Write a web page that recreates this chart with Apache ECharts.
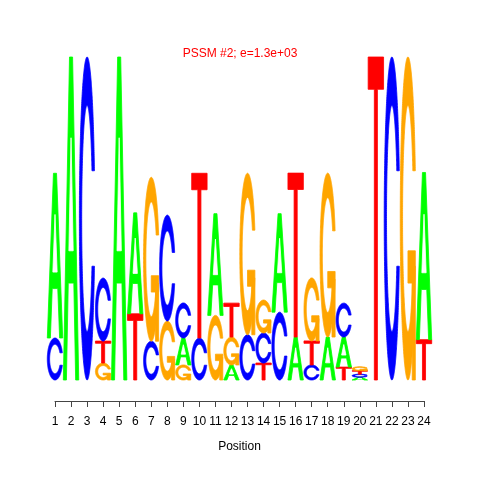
<!DOCTYPE html>
<html>
<head>
<meta charset="utf-8">
<script src="https://cdn.jsdelivr.net/npm/echarts@6/dist/echarts.min.js"></script>
<style>html,body{margin:0;padding:0;background:#fff}#chart{width:480px;height:480px}</style>
</head>
<body>
<div id="chart"></div>
<script>
// Position numbers (tick labels)
const positions = [1,2,3,4,5,6,7,8,9,10,11,12,13,14,15,16,17,18,19,20,21,22,23,24];
// Information content (bits) of each base at each position
const bitsA = [1.02,2.0,0,0,2.0,0.625,0,0,0.167,0,0.63,0.093,0,0,0.61,0.266,0,0.266,0.186,0.017,0,0,0,1.035];
const bitsC = [0.26,0,2.0,0.39,0,0,0.24,0.656,0.217,0.26,0,0,0.28,0.186,0.42,0,0.093,0,0.21,0.019,0,2.0,0,0];
const bitsG = [0,0,0,0.105,0,0,1.015,0.365,0.093,0,0.40,0.173,1.0,0.204,0,0,0.39,1.015,0,0.025,0,0,2.0,0];
const bitsT = [0,0,0,0.136,0,0.41,0,0,0,1.02,0,0.21,0,0.105,0,1.015,0.149,0,0.08,0.021,2.0,0,0,0.25];
const letters = ['A','C','G','T'];
const letterColors = {A:'#00FF00', C:'#0000FF', G:'#FFA500', T:'#FF0000'};
const titleText = 'PSSM #2; e=1.3e+03';
const xName = 'Position';

// Build stacked letter items: [position, bottom, top, letterIndex]
const stackData = [];
positions.forEach((p, i) => {
  const vals = [bitsA[i], bitsC[i], bitsG[i], bitsT[i]];
  const order = [0,1,2,3].filter(k => vals[k] > 0).sort((a,b) => vals[a] - vals[b]);
  let base = 0;
  order.forEach(k => {
    stackData.push([p, base, base + vals[k], k]);
    base += vals[k];
  });
});

// Glyph outlines in a unit box (x right, y up), following seqLogo's letter shapes
function seq(a, b, n){ const r=[]; for(let i=0;i<n;i++) r.push(a+(b-a)*i/(n-1)); return r; }
function cOutline(){
  const ang1 = seq(0.3+Math.PI/2, Math.PI, 100);
  const ang2 = seq(Math.PI, 1.5*Math.PI, 100);
  const xl1 = ang1.map(a=>0.5+0.5*Math.sin(a)), yl1 = ang1.map(a=>0.5+0.5*Math.cos(a));
  const xl2 = ang2.map(a=>0.5+0.5*Math.sin(a)), yl2 = ang2.map(a=>0.5+0.5*Math.cos(a));
  const xl = xl1.concat(xl2), yl = yl1.concat(yl2);
  let x = xl.concat(xl.slice().reverse());
  let y = yl.concat(yl.slice().reverse().map(v=>1-v));
  const hmax = Math.max(...yl1);
  let xi1 = ang1.map(a=>0.5+0.35*Math.sin(a)), yi1 = ang1.map(a=>0.5+0.35*Math.cos(a));
  const keep = yi1.map(v=>v<=hmax);
  xi1 = xi1.filter((v,i)=>keep[i]); yi1 = yi1.filter((v,i)=>keep[i]);
  yi1[0] = hmax;
  const xi2 = ang2.map(a=>0.5+0.35*Math.sin(a)), yi2 = ang2.map(a=>0.5+0.35*Math.cos(a));
  const xi = xi1.concat(xi2), yi = yi1.concat(yi2);
  const x1 = xi.concat(xi.slice().reverse());
  const y1 = yi.concat(yi.slice().reverse().map(v=>1-v));
  x = x.concat(x1.slice().reverse()); y = y.concat(y1.slice().reverse());
  return {pts: x.map((v,i)=>[v,y[i]]), r1: Math.max(...xl1)};
}
const cShape = cOutline();
const r1 = cShape.r1;
const glyphs = {
  A: [
    {pts: [[0,0],[0.4,1],[0.6,1],[1,0],[0.8,0],[0.68,0.3],[0.32,0.3],[0.2,0]], fill:null},
    {pts: [[0.36,0.4],[0.5,0.75],[0.64,0.4]], fill:'#FFFFFF'}
  ],
  C: [ {pts: cShape.pts, fill:null} ],
  G: [
    {pts: cShape.pts, fill:null},
    {pts: [[r1,0.4],[0.5,0.4],[0.5,0.3],[r1-0.2,0.3],[r1-0.2,0],[r1,0]], fill:null}
  ],
  T: [ {pts: [[0,1],[1,1],[1,0.9],[0.6,0.9],[0.6,0],[0.4,0],[0.4,0.9],[0,0.9]], fill:null} ]
};

const chart = echarts.init(document.getElementById('chart'), null, {renderer:'canvas'});
chart.setOption({
  animation: false,
  backgroundColor: '#ffffff',
  title: {
    text: titleText, left: 'center', top: 43,
    textStyle: {color:'#FF0000', fontSize: 12, fontWeight:'normal', fontFamily:'Liberation Sans, Arial, sans-serif'}
  },
  grid: {left: 55, right: 56, top: 57, bottom: 100},
  xAxis: {
    type: 'value', min: 1, max: 24, interval: 1, offset: 21,
    name: xName, nameLocation: 'middle', nameGap: 40,
    nameTextStyle: {color:'#000', fontSize: 12, fontFamily:'Liberation Sans, Arial, sans-serif'},
    axisLine: {show: true, onZero: false, lineStyle: {color:'#444', width: 1}},
    axisTick: {show: true, length: 6, lineStyle: {color:'#444', width: 1}},
    axisLabel: {color:'#000', fontSize: 12, margin: 15, fontFamily:'Liberation Sans, Arial, sans-serif',
      formatter: v => positions.includes(v) ? String(v) : ''},
    splitLine: {show: false}
  },
  yAxis: {type:'value', min: 0, max: 2, show: false, splitLine:{show:false}},
  series: [{
    type: 'custom',
    clip: false,
    data: stackData,
    renderItem: function(params, api){
      const pos = api.value(0), y0 = api.value(1), y1 = api.value(2), li = api.value(3);
      const pl = api.coord([pos - 0.48, y0]);
      const pr = api.coord([pos + 0.48, y1]);
      const xl = pl[0], xr = pr[0], yb = pl[1], yt = pr[1];
      const L = letters[li];
      const children = glyphs[L].map(g => {
        const col = g.fill || letterColors[L];
        return {
          type: 'polygon',
          shape: {points: g.pts.map(p => [xl + p[0]*(xr-xl), yb - p[1]*(yb-yt)])},
          style: {fill: col, stroke: col, lineWidth: 0.8}
        };
      });
      return {type:'group', children: children};
    }
  }]
});
</script>
</body>
</html>
